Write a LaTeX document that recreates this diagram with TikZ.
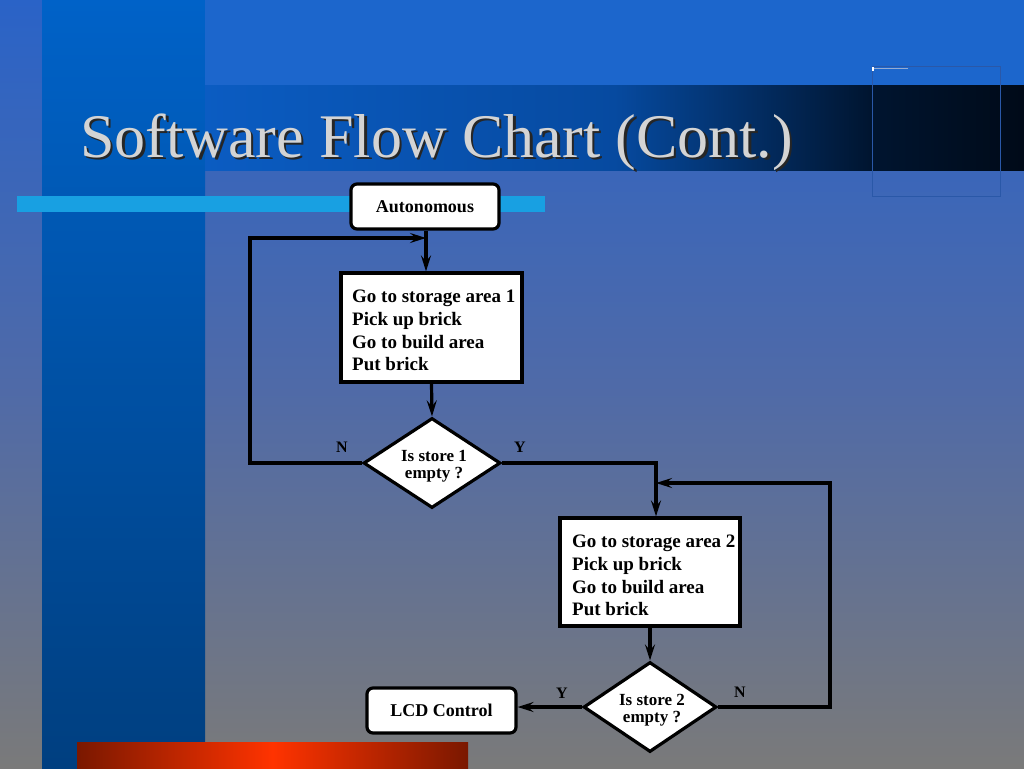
\documentclass[tikz,border=0pt]{standalone}
\usepackage{fontspec}
\setmainfont{Liberation Serif}
\usetikzlibrary{shapes.geometric,arrows.meta}
\definecolor{bgtop}{HTML}{2A63C7}
\definecolor{bgmid}{HTML}{4F6AA8}
\definecolor{bgbot}{HTML}{7A7A7A}
\definecolor{coltop}{HTML}{0062C8}
\definecolor{colbot}{HTML}{003F80}
\definecolor{bandtop}{HTML}{1C66CC}
\definecolor{tb1}{HTML}{0B5CC2}
\definecolor{tb2}{HTML}{064AA0}
\definecolor{tb3}{HTML}{001530}
\definecolor{tb4}{HTML}{000A18}
\definecolor{cyanbar}{HTML}{18A0E2}
\definecolor{frameline}{HTML}{2A58A8}
\definecolor{redA}{HTML}{7A1800}
\definecolor{redB}{HTML}{FF3300}
\definecolor{titlegray}{HTML}{D4D4D4}
\tikzset{
  flowline/.style={line width=3.2pt, draw=black},
  flowarrow/.style={flowline, -{Stealth[length=16pt,width=10pt,inset=6pt]}},
  roundbox/.style={draw=black, fill=white, line width=3.2pt, rounded corners=6pt, inner sep=0pt, font=\bfseries\fontsize{18}{20}\selectfont},
  procbox/.style={draw=black, fill=white, line width=3.2pt, inner sep=0pt},
  boxtext/.style={inner sep=0pt, align=left, font=\bfseries\fontsize{19}{22.7}\selectfont},
  decision/.style={diamond, draw=black, fill=white, line width=3.2pt, inner sep=0pt, aspect=1.52},
  dtext/.style={inner sep=0pt, align=center, font=\bfseries\fontsize{17}{17.5}\selectfont},
  edgelabel/.style={font=\bfseries\fontsize{16}{18}\selectfont, inner sep=0pt}
}
\begin{document}
\begin{tikzpicture}[x=1pt,y=-1pt]
\useasboundingbox (0,0) rectangle (1024,768);
% background
\fill[top color=bgtop, bottom color=bgbot, middle color=bgmid] (0,0) rectangle (1024,768);
\fill[top color=coltop, bottom color=colbot] (42,0) rectangle (205,768);
\fill[bandtop] (205,0) rectangle (1024,85);
\fill[left color=tb1, right color=tb2] (205,85) rectangle (614,170);
\fill[left color=tb2, right color=tb3] (614,85) rectangle (870,170);
\fill[left color=tb3, right color=tb4] (870,85) rectangle (1024,170);
\fill[cyanbar] (17,196) rectangle (545,212);
\draw[frameline, line width=0.8pt] (872,66) rectangle (1000,196);
\fill[white] (872,67) rectangle (874,71);
\draw[white!50!frameline, line width=0.6pt] (874,68.5) -- (908,68.5);
\fill[left color=redA, right color=redA, middle color=redB] (77,742) rectangle (468,768);
% title
\node[anchor=base west, inner sep=0pt, text=black!85, font=\fontsize{62}{62}\selectfont] (titleshadow) at (82.5,159.5) {Software Flow Chart (Cont.)};
\node[anchor=base west, inner sep=0pt, text=titlegray, font=\fontsize{62}{62}\selectfont] (title) at (80,157) {Software Flow Chart (Cont.)};
% flowchart nodes
\node[roundbox, minimum width=148pt, minimum height=45pt] (auto) at (425,206.5) {Autonomous};
\node[procbox, minimum width=181pt, minimum height=109pt] (b1) at (431.5,327.5) {};
\node[boxtext, anchor=north west] (b1t) at (352,290) {Go to storage area 1\\Pick up brick\\Go to build area\\Put brick};
\node[decision, minimum width=137pt, minimum height=90pt] (d1) at (432,463) {};
\node[dtext] (d1t) at (434,466) {Is store 1\\empty ?};
\node[procbox, minimum width=180pt, minimum height=108pt] (b2) at (650,572) {};
\node[boxtext, anchor=north west] (b2t) at (572,535) {Go to storage area 2\\Pick up brick\\Go to build area\\Put brick};
\node[decision, minimum width=133pt, minimum height=90pt] (d2) at (650,707) {};
\node[dtext] (d2t) at (652,710) {Is store 2\\empty ?};
\node[roundbox, minimum width=149pt, minimum height=45pt] (lcd) at (441.5,710.5) {LCD Control};
% helper coordinates
\coordinate (l1a) at (250,463);
\coordinate (l1b) at (250,238);
\coordinate (m1) at (426,238);
\coordinate (y1) at (656,463);
\coordinate (l2a) at (830,707);
\coordinate (l2b) at (830,483);
\coordinate (m2) at (656,483);
% connectors
\draw[flowarrow] (m1 |- auto.south) -- (m1 |- b1.north);
\draw[flowarrow] (d1.west) -- (l1a) -- (l1b) -- (m1);
\draw[flowarrow] (b1.south) -- (d1.north);
\draw[flowarrow] (d1.east) -- (y1) -- (y1 |- b2.north);
\draw[flowarrow] (d2.east) -- (l2a) -- (l2b) -- (m2);
\draw[flowarrow] (b2.south) -- (d2.north);
\draw[flowarrow] (d2.west) -- (d2.west -| lcd.east);
% labels
\node[edgelabel] (n1) at (342,447) {N};
\node[edgelabel] (y1l) at (520,447) {Y};
\node[edgelabel] (y2l) at (562,693) {Y};
\node[edgelabel] (n2) at (740,692) {N};
\end{tikzpicture}
\end{document}
